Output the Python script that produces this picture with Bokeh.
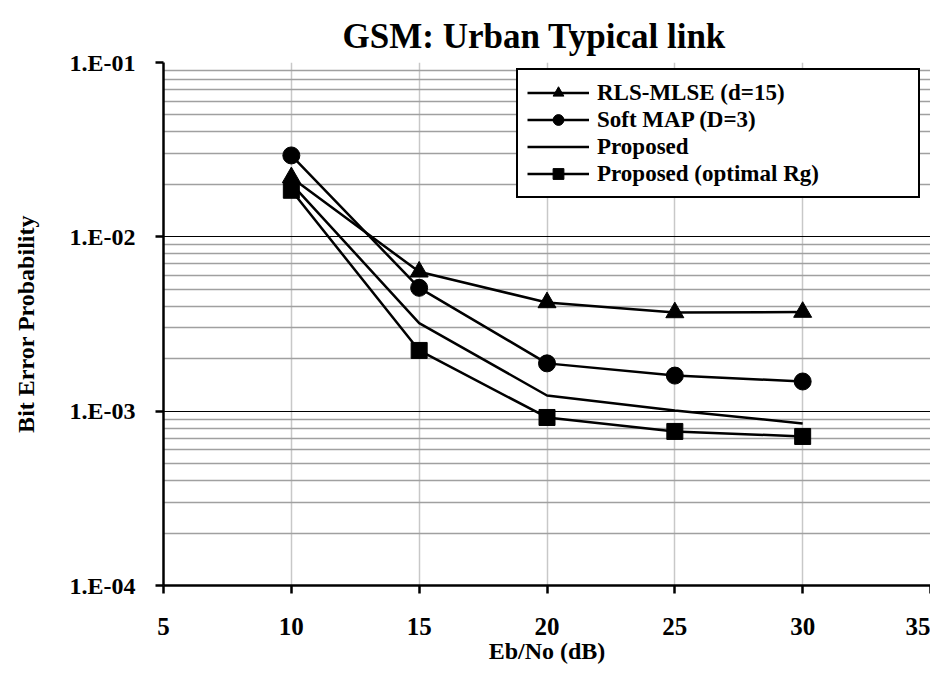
from bokeh.plotting import figure
from bokeh.models import Range1d, FixedTicker, Legend, LegendItem, Title
from bokeh.embed import file_html
from bokeh.resources import INLINE

# ---- data ----
ebno = [10, 15, 20, 25, 30]
rls_mlse = [0.0219, 0.0063, 0.0042, 0.00368, 0.0037]
soft_map = [0.0293, 0.0051, 0.00188, 0.0016, 0.00148]
proposed = [0.0202, 0.0032, 0.00123, 0.00101, 0.00085]
proposed_opt = [0.0185, 0.00223, 0.00092, 0.000765, 0.000716]

x_ticks = [5, 10, 15, 20, 25, 30, 35]
y_ticks = [1e-4, 1e-3, 1e-2, 1e-1]
y_tick_labels = ["1.E-04", "1.E-03", "1.E-02", "1.E-01"]
y_minor = [k * d for d in (1e-4, 1e-3, 1e-2) for k in range(2, 10)]

FONT = "Liberation Serif"

p = figure(width=930, height=672, y_axis_type="log",
           x_range=Range1d(5, 35), y_range=Range1d(1e-4, 1e-1),
           output_backend="svg", toolbar_location=None,
           min_border_left=163, min_border_right=0,
           min_border_top=62, min_border_bottom=87)
p.title = Title(text="GSM: Urban Typical link", align="left", offset=179,
                text_font=FONT, text_font_size="35px", text_font_style="bold",
                text_color="black", standoff=14)
p.outline_line_color = None
p.background_fill_color = "white"
p.border_fill_color = "white"

# axes
p.xaxis.ticker = FixedTicker(ticks=x_ticks)
p.yaxis.ticker = FixedTicker(ticks=y_ticks, minor_ticks=y_minor)
p.yaxis.major_label_overrides = {v: s for v, s in zip(y_ticks, y_tick_labels)}
p.xaxis.axis_label = "Eb/No (dB)"
p.yaxis.axis_label = "Bit Error Probability"
for ax in (p.xaxis, p.yaxis):
    ax.axis_line_width = 2.5
    ax.axis_line_color = "black"
    ax.major_tick_line_width = 2.5
    ax.major_tick_line_color = "black"
    ax.major_tick_out = 8
    ax.major_tick_in = 0
    ax.minor_tick_line_color = None
    ax.major_label_text_font = FONT
    ax.major_label_text_font_style = "bold"
    ax.major_label_text_color = "black"
    ax.axis_label_text_font = FONT
    ax.axis_label_text_font_style = "bold"
    ax.axis_label_text_font_size = "24px"
    ax.axis_label_text_color = "black"
p.xaxis.major_label_text_font_size = "25px"
p.yaxis.major_label_text_font_size = "24px"
p.xaxis.major_label_standoff = 24
p.xaxis.axis_label_standoff = 0
p.yaxis.major_label_standoff = 20
p.yaxis.axis_label_standoff = 28

# grids
p.xgrid.grid_line_color = "#c8c8c8"
p.xgrid.grid_line_width = 1.5
p.ygrid.grid_line_color = "black"
p.ygrid.grid_line_width = 1
p.ygrid.minor_grid_line_color = "#a0a0a0"
p.ygrid.minor_grid_line_width = 1.5

LW = 2.5
r1 = p.line(ebno, rls_mlse, line_color="black", line_width=LW)
m1 = p.scatter(ebno, rls_mlse, marker="triangle", size=18, color="black")
r2 = p.line(ebno, soft_map, line_color="black", line_width=LW)
m2 = p.scatter(ebno, soft_map, marker="circle", size=17, color="black")
r3 = p.line(ebno, proposed, line_color="black", line_width=LW)
r4 = p.line(ebno, proposed_opt, line_color="black", line_width=LW)
m4 = p.scatter(ebno, proposed_opt, marker="square", size=16, color="black")

legend = Legend(items=[
    LegendItem(label="RLS-MLSE (d=15)", renderers=[r1, m1]),
    LegendItem(label="Soft MAP (D=3)", renderers=[r2, m2]),
    LegendItem(label="Proposed", renderers=[r3]),
    LegendItem(label="Proposed (optimal Rg)", renderers=[r4, m4]),
], location=(353, 387))
legend.label_text_font = FONT
legend.label_text_font_style = "bold"
legend.label_text_font_size = "23px"
legend.label_text_color = "black"
legend.label_height = 27
legend.glyph_height = 27
legend.glyph_width = 62
legend.label_standoff = 8
legend.spacing = 0
legend.padding = 9
legend.margin = 0
legend.label_width = 312
legend.border_line_color = "black"
legend.border_line_alpha = 1.0
legend.border_line_width = 2.5
legend.background_fill_color = "white"
legend.background_fill_alpha = 1
p.add_layout(legend, "center")

open("out.html", "w").write(file_html(p, INLINE))
